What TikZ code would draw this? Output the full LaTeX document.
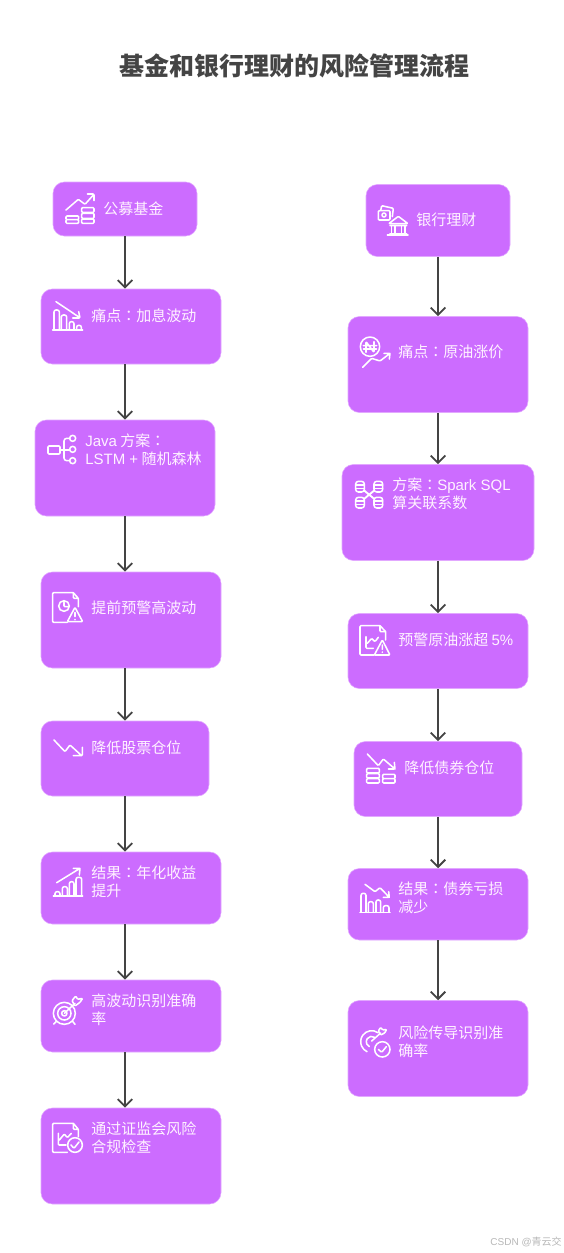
\documentclass[tikz,border=0pt]{standalone}
\usepackage{fontspec}
\setmainfont{Noto Sans CJK SC}
\newfontfamily\tcfont{Noto Sans CJK TC}
\newfontfamily\latf{Liberation Sans}
\newcommand{\qc}{{\tcfont ：}}
\definecolor{boxfill}{HTML}{CC6CFF}
\definecolor{boxedge}{HTML}{E2A8FF}
\definecolor{ink}{HTML}{444444}
\definecolor{labink}{HTML}{FFF2FF}
\usetikzlibrary{arrows.meta}
\tikzset{
  boxn/.style={rectangle,rounded corners=8.5pt,fill=boxfill,draw=boxedge,line width=0.4pt,inner sep=0pt},
  lab/.style={anchor=west,inner sep=0pt,align=left,text=labink,font=\fontsize{11.25}{13.5}\selectfont},
  flow/.style={draw=ink,line width=1.4pt,-{Straight Barb[length=5.5pt,width=11pt,line width=1.4pt]}},
  ic/.style={draw=white,line width=1.15pt,line cap=round,line join=round,rounded corners=0.7pt},
  zoomc/.style={x=0.25pt,y=-0.25pt}
}
\newcommand{\bx}[5]{\node[boxn,minimum width={(#4-#2)*0.75pt},minimum height={(#5-#3)*0.75pt}] (#1) at ({(#2+#4)/2},{(#3+#5)/2}) {};}
\begin{document}
\begin{tikzpicture}[x=0.75pt,y=-0.75pt]
\useasboundingbox (0,0) rectangle (564,1253);
\fill[white] (0,0) rectangle (564,1253);
\node[inner sep=0pt,text=ink,font=\fontsize{18.75}{22}\bfseries\selectfont] (title) at (294,66) {基金和银行理财的风险管理流程};
% left boxes
\bx{La}{53}{182}{197}{236}
\bx{Lb}{41}{289}{221}{364}
\bx{Lc}{35}{420}{215}{516}
\bx{Ld}{41}{572}{221}{668}
\bx{Le}{41}{721}{209}{796}
\bx{Lf}{41}{852}{221}{924}
\bx{Lg}{41}{980}{221}{1052}
\bx{Lh}{41}{1108}{221}{1204}
% right boxes
\bx{Ra}{366}{184.5}{510}{256.5}
\bx{Rb}{348}{316.5}{528}{412.5}
\bx{Rc}{342}{464.5}{534}{560.5}
\bx{Rd}{348}{613.5}{528}{688.5}
\bx{Re}{354}{741.5}{522}{816.5}
\bx{Rf}{348}{868.5}{528}{940}
\bx{Rg}{348}{1000.5}{528}{1096.5}
% connectors: each column runs straight down one vertical line
\coordinate (spineL) at (125,0);
\coordinate (spineR) at (438,0);
\foreach \a/\b in {La/Lb,Lb/Lc,Lc/Ld,Ld/Le,Le/Lf,Lf/Lg,Lg/Lh}
  \draw[flow] (\a.south -| spineL) -- (\b.north -| spineL);
\foreach \a/\b in {Ra/Rb,Rb/Rc,Rc/Rd,Rd/Re,Re/Rf,Rf/Rg}
  \draw[flow] (\a.south -| spineR) -- (\b.north -| spineR);
% labels
\node[lab] (ta) at (103,209) {公募基金};
\node[lab] (tb) at (91,316) {痛点\qc 加息波动};
\node[lab] (tc) at (85,449.5) {{\latf Java} 方案\qc\\{\latf LSTM +} 随机森林};
\node[lab] (td) at (91,608) {提前预警高波动};
\node[lab] (te) at (91,748) {降低股票仓位};
\node[lab] (tf) at (91,881.5) {结果\qc 年化收益\\提升};
\node[lab] (tg) at (91,1009.5) {高波动识别准确\\率};
\node[lab] (th) at (91,1138) {通过证监会风险\\合规检查};
\node[lab] (ua) at (416,220) {银行理财};
\node[lab] (ub) at (398,352) {痛点\qc 原油涨价};
\node[lab] (uc) at (392,494) {方案\qc {\latf Spark SQL}\\算关联系数};
\node[lab] (ud) at (398,640) {预警原油涨超 {\latf 5\%}};
\node[lab] (ue) at (404,768) {降低债券仓位};
\node[lab] (uf) at (398,897.5) {结果\qc 债券亏损\\减少};
\node[lab] (ug) at (398,1042) {风险传导识别准\\确率};
\node[anchor=east,inner sep=0pt,text=black!28,font=\fontsize{7.5}{9}\selectfont] (wm) at (562,1242) {{\latf CSDN @}青云交};
% icons (coordinates in thirds of a pixel)
\begin{scope}[shift={(30,170)},zoomc]
  % La
  \draw[ic] (108,120)--(145,88)--(165,103)--(190,75) (172,72)--(192,72)--(192,92);
  \draw[ic] (155,113) rectangle (192,127) (155,130) rectangle (192,145) (155,147) rectangle (192,160);
  \draw[ic] (108,138) rectangle (146,149) (108,149) rectangle (146,160);
  % Lb
  \draw[ic] (78,395)--(148,442) (128,444)--(150,444)--(146,425);
  \draw[ic] (68,480)--(158,480);
  \draw[ic,rounded corners=1.5pt] (72,480)--(72,420)--(88,420)--(88,480) (94,480)--(94,435)--(110,435)--(110,480) (118,480)--(118,455)--(132,455)--(132,480) (140,480)--(140,466)--(154,466)--(154,480);
\end{scope}
\begin{scope}[shift={(30,410)},zoomc]
  % Lc
  \draw[ic] (54,108) rectangle (90,132) (90,120)--(119,120);
  \draw[ic,rounded corners=2pt] (119,85)--(102,85)--(102,152)--(119,152);
  \draw[ic] (128,85) circle (9) (128,118) circle (9) (128,152) circle (9);
  % Ld
  \draw[ic] (130,548)--(68,548)--(68,637)--(112,637) (130,548)--(145,565)--(145,590) (130,548)--(130,565)--(145,565);
  \draw[ic] (102,588) circle (16) (102,577)--(102,590)--(114,590);
  \draw[ic] (135,592)--(158,635)--(112,635)--cycle (135,607)--(135,620) (135,628)--(135,629);
\end{scope}
\begin{scope}[shift={(30,715)},zoomc]
  % Le
  \draw[ic] (72,75)--(105,110)--(120,90)--(155,122) (130,122)--(157,122)--(157,97);
  % Lf
  \draw[ic] (80,503)--(150,460) (130,460)--(150,460)--(148,480);
  \draw[ic] (70,543)--(158,543);
  \draw[ic,rounded corners=1.5pt] (75,543)--(75,530)--(90,530)--(90,543) (97,543)--(97,515)--(112,515)--(112,543) (118,543)--(118,500)--(132,500)--(132,543) (138,543)--(138,487)--(155,487)--(155,543);
\end{scope}
\begin{scope}[shift={(30,970)},zoomc]
  % Lg
  \draw[ic] (103,130) circle (33) (103,130) circle (20) (103,130) circle (8);
  \draw[ic] (71,162)--(80,153) (135,163)--(127,153) (103,130)--(135,100);
  \draw[ic] (126,92)--(137,78)--(143,88)--(158,85)--(150,97)--(135,108)--cycle;
  % Lh
  \draw[ic] (130,460)--(68,460)--(68,547)--(112,547) (130,460)--(145,478)--(145,500) (130,460)--(130,478)--(145,478);
  \draw[ic] (85,490)--(85,525)--(108,525) (88,510)--(103,492)--(112,503)--(124,490);
  \draw[ic] (135,525) circle (22) (123,525)--(132,535)--(147,516);
\end{scope}
\begin{scope}[shift={(340,175)},zoomc]
  % Ra
  \draw[ic] (115,107) rectangle (150,135) (122,107)--(125,92)--(160,100)--(157,125) (132,120) circle (6);
  \draw[ic] (146,146)--(175,124)--(204,146)--cycle (150,152)--(200,152);
  \draw[ic] (155,152)--(155,175) (165,152)--(165,175) (185,152)--(185,175) (195,152)--(195,175) (142,180)--(204,180) (150,175)--(200,175);
  % Rb
  \draw[ic] (90,515) circle (29) (78,532)--(78,500)--(102,532)--(102,500) (70,512)--(110,512) (70,522)--(110,522);
  \draw[ic] (68,577)--(95,550)--(120,558)--(150,535) (132,535)--(150,535)--(148,552);
\end{scope}
\begin{scope}[shift={(340,460)},zoomc]
  % Rc
  \foreach \cx/\cy in {60/80,115/80,60/128,115/128}{
    \draw[ic,rounded corners=2pt] (\cx-13,\cy-16) rectangle (\cx+13,\cy+16);
    \draw[ic] (\cx-13,\cy-5)--(\cx+13,\cy-5) (\cx-13,\cy+5)--(\cx+13,\cy+5);
  }
  \draw[ic,line width=1.4pt] (73,92)--(102,116) (102,92)--(73,116);
  % Rd
  \draw[ic] (120,497)--(60,497)--(60,585)--(103,585) (120,497)--(137,515)--(137,540) (120,497)--(120,515)--(137,515);
  \draw[ic] (78,530)--(78,565)--(100,565) (82,550)--(95,535)--(105,545)--(115,532);
  \draw[ic] (127,540)--(150,585)--(103,585)--cycle (127,555)--(127,568) (127,576)--(127,577);
\end{scope}
\begin{scope}[shift={(340,735)},zoomc]
  % Re
  \draw[ic] (82,57)--(115,92)--(130,72)--(165,102) (145,102)--(165,102)--(163,82);
  \draw[ic] (80,100) rectangle (118,114) (80,116) rectangle (118,129) (80,131) rectangle (118,144);
  \draw[ic] (128,118) rectangle (165,131) (128,131) rectangle (165,144);
  % Rf
  \draw[ic] (75,448)--(105,470)--(120,458)--(148,487) (130,487)--(148,487)--(146,470);
  \draw[ic] (60,532)--(150,532);
  \draw[ic,rounded corners=1.5pt] (63,532)--(63,475)--(78,475)--(78,532) (85,532)--(85,500)--(100,500)--(100,532) (108,532)--(108,495)--(122,495)--(122,532) (130,532)--(130,512)--(147,512)--(147,532);
\end{scope}
\begin{scope}[shift={(340,995)},zoomc]
  % Rg
  \draw[ic,rounded corners=0pt] (114,113) arc (-55:-245:33);
  \draw[ic,rounded corners=0pt] (104,127) arc (-55:-245:16);
  \draw[ic] (95,138)--(122,114);
  \draw[ic] (115,108)--(122,97)--(128,105)--(140,103)--(134,114)--(122,120)--cycle;
  \draw[ic] (127,163) circle (23) (115,163)--(125,172)--(139,155);
\end{scope}
\end{tikzpicture}
\end{document}
